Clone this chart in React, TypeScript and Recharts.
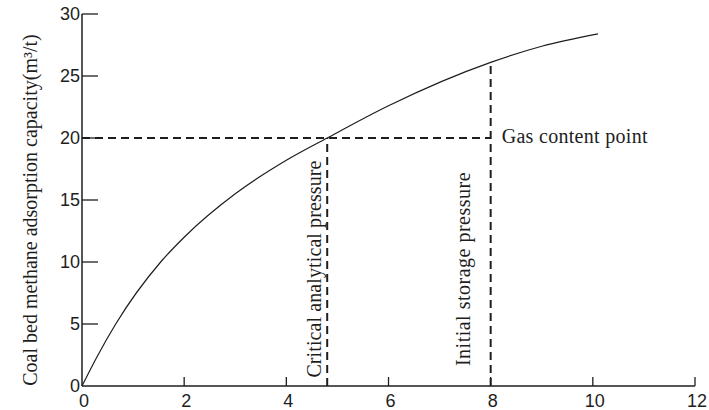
import React from "react";
import { LineChart, Line, XAxis, YAxis, ReferenceLine } from "recharts";

const pressure = [0, 0.3, 0.66, 1.54, 2, 3, 4, 4.8, 6, 8, 9, 10.1];
const capacity = [0, 2.4, 5, 10, 12, 15.5, 18.2, 20, 22.6, 26.1, 27.4, 28.4];
const xTicks = [0, 2, 4, 6, 8, 10, 12];
const yTicks = [0, 5, 10, 15, 20, 25, 30];

const gasContent = 20;
const criticalPressure = 4.8;
const initialPressure = 8;
const initialCapacity = 26.1;

const data = pressure.map((p, i) => ({ p, v: capacity[i] }));

const W = 709;
const H = 410;
const margin = { top: 14, right: 14, bottom: 0, left: 32 };
const Y_AXIS_W = 50;
const X_AXIS_H = 24;
const PLOT_LEFT = margin.left + Y_AXIS_W;
const PLOT_BOTTOM = H - margin.bottom - X_AXIS_H;

const INK = "#1e1e1e";
const SANS = "'Liberation Sans', Arial, sans-serif";
const SERIF = "'Liberation Serif', 'Times New Roman', serif";

const YTick = (props: any) => {
  const { y, payload } = props;
  return (
    <g>
      {payload.value !== 0 && (
        <line x1={PLOT_LEFT} x2={PLOT_LEFT + 16} y1={y} y2={y} stroke={INK} strokeWidth={1.3} />
      )}
      <text x={PLOT_LEFT - 2} y={y} dy="0.36em" textAnchor="end" fontFamily={SANS} fontSize={18} fill={INK}>
        {payload.value}
      </text>
    </g>
  );
};

const XTick = (props: any) => {
  const { x, payload } = props;
  return (
    <g>
      {payload.value !== 0 && (
        <line x1={x} x2={x} y1={PLOT_BOTTOM} y2={PLOT_BOTTOM - 9} stroke={INK} strokeWidth={1.3} />
      )}
      <text x={x + 2} y={PLOT_BOTTOM + 21} textAnchor="middle" fontFamily={SANS} fontSize={18} fill={INK}>
        {payload.value}
      </text>
    </g>
  );
};

const vLabel = (text: string, dx: number, spacing: number) => (props: any) => {
  const vb = props.viewBox || {};
  const cx = vb.x - dx;
  const cy = vb.y + vb.height - 117;
  return (
    <text
      x={cx}
      y={cy}
      transform={`rotate(-90 ${cx} ${cy})`}
      textAnchor="middle"
      dominantBaseline="central"
      fontFamily={SERIF}
      fontSize={20}
      letterSpacing={spacing}
      fill={INK}
    >
      {text}
    </text>
  );
};

const gasLabel = (props: any) => {
  const vb = props.viewBox || {};
  return (
    <text
      x={vb.x + vb.width + 11}
      y={vb.y - 2}
      dominantBaseline="central"
      fontFamily={SERIF}
      fontSize={20}
      letterSpacing={0.3}
      fill={INK}
    >
      Gas content point
    </text>
  );
};

const yTitle = () => {
  const cx = 30;
  const cy = 210;
  return (
    <text
      x={cx}
      y={cy}
      transform={`rotate(-90 ${cx} ${cy})`}
      textAnchor="middle"
      dominantBaseline="central"
      fontFamily={SERIF}
      fontSize={20}
      fill={INK}
    >
      Coal bed methane adsorption capacity(m³/t)
    </text>
  );
};

export default function App() {
  return (
    <div style={{ position: "absolute", left: 0, top: 0, width: W, height: H, background: "#fff" }}>
      <LineChart width={W} height={H} data={data} margin={margin}>
        <XAxis
          dataKey="p"
          type="number"
          domain={[0, 12]}
          ticks={xTicks}
          height={X_AXIS_H}
          tickLine={false}
          tick={XTick}
          axisLine={{ stroke: INK, strokeWidth: 1.5 }}
          interval={0}
        />
        <YAxis
          type="number"
          domain={[0, 30]}
          ticks={yTicks}
          width={Y_AXIS_W}
          tickLine={false}
          tick={YTick}
          axisLine={{ stroke: INK, strokeWidth: 1.5 }}
          interval={0}
          label={{ content: yTitle }}
        />
        <ReferenceLine
          segment={[{ x: 0, y: gasContent }, { x: initialPressure, y: gasContent }]}
          stroke={INK}
          strokeWidth={2}
          strokeDasharray="8 5"
          label={gasLabel}
        />
        <ReferenceLine
          segment={[{ x: criticalPressure, y: 0 }, { x: criticalPressure, y: gasContent }]}
          stroke={INK}
          strokeWidth={2}
          strokeDasharray="8 5"
          label={vLabel("Critical analytical pressure", 13, 0.1)}
        />
        <ReferenceLine
          segment={[{ x: initialPressure, y: 0 }, { x: initialPressure, y: initialCapacity }]}
          stroke={INK}
          strokeWidth={2}
          strokeDasharray="8 5"
          label={vLabel("Initial storage pressure", 28, 0.5)}
        />
        <Line
          type="monotone"
          dataKey="v"
          stroke={INK}
          strokeWidth={1.2}
          dot={false}
          isAnimationActive={false}
        />
      </LineChart>
    </div>
  );
}
